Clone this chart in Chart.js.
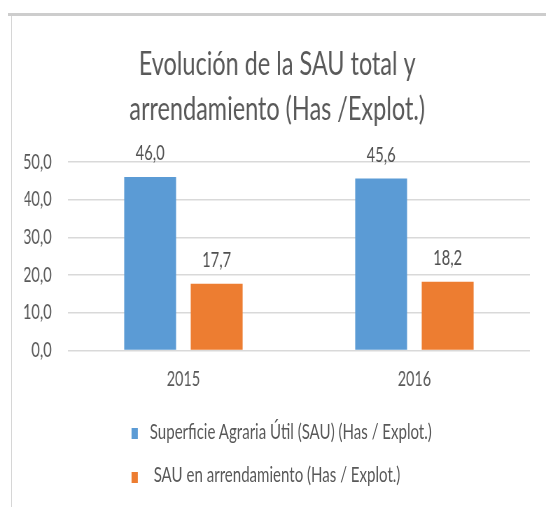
<!DOCTYPE html>
<html lang="es">
  <head>
    <meta charset="UTF-8" />
    <title>Evolución de la SAU total y arrendamiento</title>
    <script src="https://cdn.jsdelivr.net/npm/chart.js@4.4.1/dist/chart.umd.min.js"></script>
    <style>
      body { margin: 0; width: 546px; height: 507px; overflow: hidden; position: relative; background: #fff; font-family: Lato, sans-serif; }
      #topline { position: absolute; left: 8px; top: 13px; width: 538px; height: 3px; background: #cdcdcd; }
      #leftline { position: absolute; left: 11px; top: 16px; width: 1px; height: 491px; background: #d6d6d6; }
      /* the original picture is squeezed sideways, so draw wider and squeeze */
      #squeeze { position: absolute; left: 0; top: 0; width: 780px; height: 507px; transform: scaleX(0.7); transform-origin: 0 0; }
      #myChart { position: absolute; left: 0; top: 0; }
      .item { position: absolute; left: 188px; height: 24px; display: flex; align-items: flex-start; }
      .swatch { width: 9px; height: 11px; margin-right: 17px; }
      .label { font: 21.5px Lato, sans-serif; line-height: 24px; color: #595959; white-space: pre; }
    </style>
  </head>
  <body>
    <div id="topline"></div>
    <div id="leftline"></div>
    <div id="squeeze">
      <canvas id="myChart" width="780" height="400"></canvas>
      <div id="legend"></div>
    </div>
    <script>
      const years = ["2015", "2016"]
      const sauTotal = [46.0, 45.6]
      const sauArrend = [17.7, 18.2]
      const seriesNames = ["Superficie Agraria Útil (SAU) (Has / Explot.)", " SAU en arrendamiento (Has / Explot.)"]
      const seriesColors = ["#5b9bd5", "#ed7d31"]
      const titleLines = ["Evolución de la SAU total y", "arrendamiento (Has /Explot.)"]

      function fmt(v) {
        return v.toFixed(1).replace(".", ",")
      }

      // value above each bar, like the Excel data labels
      const valueLabels = {
        id: "valueLabels",
        afterDatasetsDraw(chart) {
          const ctx = chart.ctx
          ctx.save()
          ctx.font = "21px Lato"
          ctx.fillStyle = "#505050"
          ctx.textAlign = "center"
          ctx.textBaseline = "alphabetic"
          chart.data.datasets.forEach((ds, i) => {
            chart.getDatasetMeta(i).data.forEach((bar, j) => {
              ctx.fillText(fmt(ds.data[j]), bar.x, bar.y - 17)
            })
          })
          ctx.restore()
        },
      }

      const ctx = document.getElementById("myChart").getContext("2d")
      const myChart = new Chart(ctx, {
        type: "bar",
        data: {
          labels: years,
          datasets: [
            { label: seriesNames[0], data: sauTotal, backgroundColor: seriesColors[0] },
            { label: seriesNames[1], data: sauArrend, backgroundColor: seriesColors[1] },
          ],
        },
        options: {
          responsive: false,
          animation: false,
          categoryPercentage: 0.576,
          barPercentage: 0.78,
          layout: { padding: { top: 0, left: 35, right: 23, bottom: 0 } },
          plugins: {
            legend: { display: false },
            tooltip: { enabled: false },
            title: {
              display: true,
              text: titleLines,
              color: "#595959",
              font: { family: "Lato", size: 33.5, weight: "normal", lineHeight: 1.343 },
              padding: { top: 41.5, bottom: 30.5 },
            },
          },
          scales: {
            x: {
              grid: { display: false },
              border: { display: false },
              ticks: { color: "#595959", font: { family: "Lato", size: 20.5 }, padding: 8.5 },
            },
            y: {
              min: 0,
              max: 50,
              afterFit: (s) => { s.width = 62 },
              grid: { color: "#d9d9d9", lineWidth: 1.5, drawTicks: false },
              border: { display: false },
              ticks: {
                stepSize: 10,
                color: "#595959",
                font: { family: "Lato", size: 21 },
                padding: 23,
                callback: (v) => fmt(v),
              },
            },
          },
        },
        plugins: [valueLabels],
      })

      // legend as two stacked rows, built from the datasets
      const legendEl = document.getElementById("legend")
      const rowTops = [418.5, 462]
      myChart.data.datasets.forEach((ds, i) => {
        const row = document.createElement("div")
        row.className = "item"
        row.style.top = rowTops[i] + "px"
        const sw = document.createElement("div")
        sw.className = "swatch"
        sw.style.background = ds.backgroundColor
        sw.style.marginTop = (i === 0 ? 9.5 : 10) + "px"
        const tx = document.createElement("span")
        tx.className = "label"
        tx.textContent = ds.label
        row.appendChild(sw)
        row.appendChild(tx)
        legendEl.appendChild(row)
      })
    </script>
  </body>
</html>
